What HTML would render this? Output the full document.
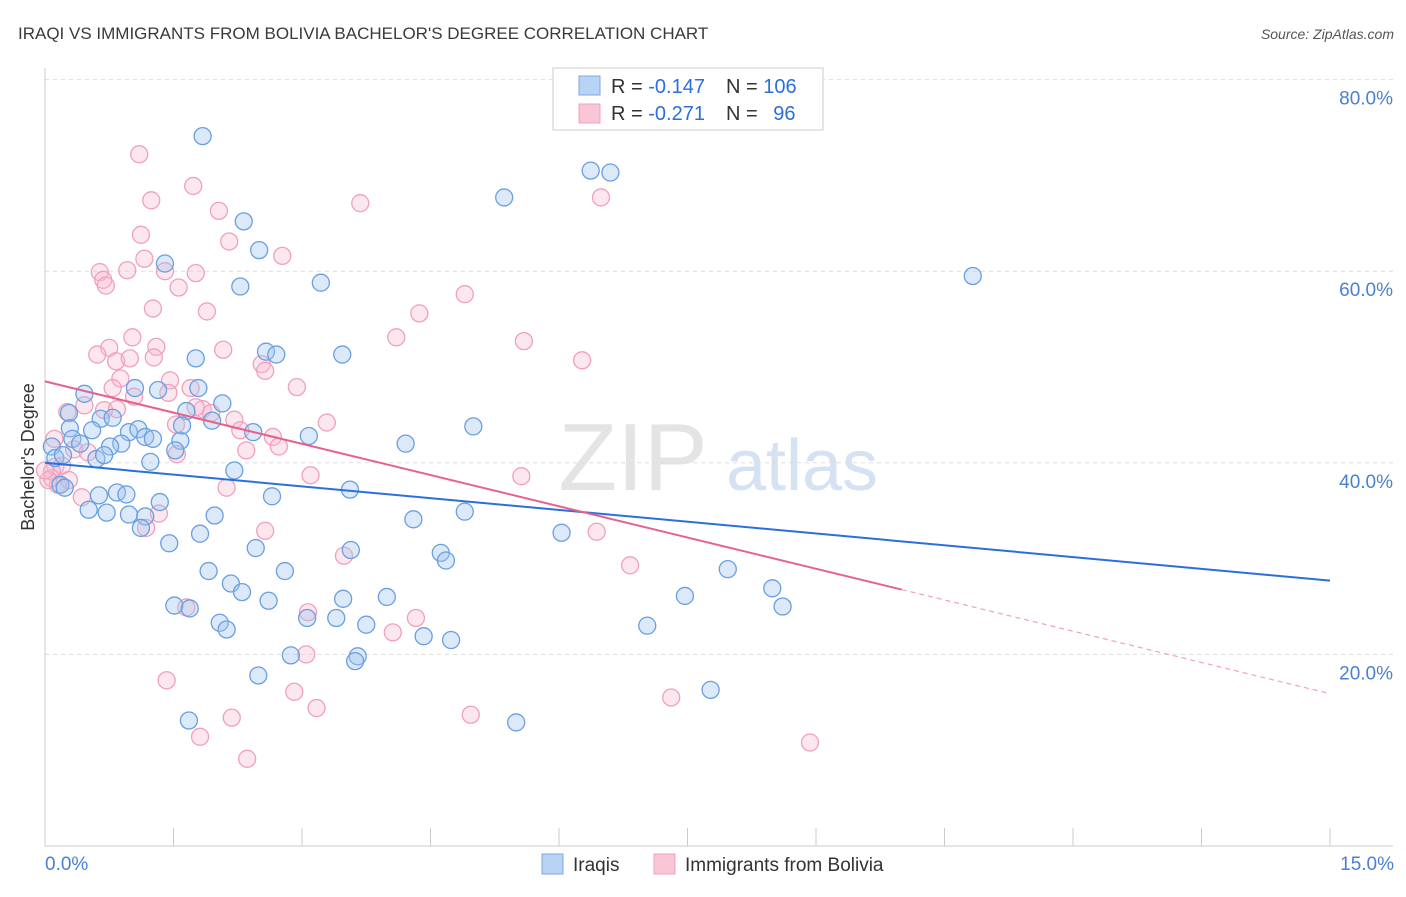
<!DOCTYPE html>
<html><head><meta charset="utf-8"><style>
body{margin:0;background:#fff;font-family:"Liberation Sans",sans-serif;}
svg text{font-family:"Liberation Sans",sans-serif;}
</style></head><body>
<svg id="chart" width="1406" height="892" viewBox="0 0 1406 892">
<text x="18" y="39" font-size="17" fill="#3a3a3a">IRAQI VS IMMIGRANTS FROM BOLIVIA BACHELOR'S DEGREE CORRELATION CHART</text>
<text x="1394" y="39" font-size="14" fill="#555" font-style="italic" text-anchor="end">Source: ZipAtlas.com</text>
<g>
<text x="633" y="490" font-size="96" fill="#e4e4e4" font-family="Liberation Serif" text-anchor="middle">ZIP</text>
<text x="802" y="490" font-size="72" fill="#d4e2f2" text-anchor="middle">atlas</text>
</g>
<g id="grid"></g>
<g id="axes"></g>
<g id="points"></g>
<g id="lines"></g>
<text transform="translate(34,457) rotate(-90)" font-size="18" fill="#333" text-anchor="middle">Bachelor's Degree</text>
<g>
<rect x="553" y="68" width="270" height="62" fill="#fff" stroke="#ccc"/>
<rect x="579" y="76" width="21" height="19" fill="#b8d3f4" stroke="#7aa8e6"/>
<rect x="579" y="104" width="21" height="19" fill="#f8c6d6" stroke="#f0a0bc"/>
<text x="611" y="93" font-size="20" fill="#333">R = <tspan fill="#2a6fdb">-0.147</tspan></text>
<text x="726" y="93" font-size="20" fill="#333">N = <tspan fill="#2a6fdb">106</tspan></text>
<text x="611" y="120" font-size="20" fill="#333">R = <tspan fill="#2a6fdb">-0.271</tspan></text>
<text x="726" y="120" font-size="20" fill="#333">N = <tspan fill="#2a6fdb" dx="10">96</tspan></text>
</g>
<g>
<rect x="542" y="854" width="21" height="20" fill="#b8d3f4" stroke="#7aa8e6"/>
<text x="573" y="871" font-size="19" fill="#333">Iraqis</text>
<rect x="654" y="854" width="21" height="20" fill="#f8c6d6" stroke="#f0a0bc"/>
<text x="685" y="871" font-size="19" fill="#333">Immigrants from Bolivia</text>
</g>
</svg>
<script>
const blueX=[1.84,6.37,6.60,5.36,2.32,2.50,10.83,3.22,2.28,1.40,1.76,2.58,2.70,3.47,0.46,1.32,1.05,1.79,1.65,1.95,2.07,0.28,0.65,0.79,0.29,0.32,0.41,0.55,0.98,1.09,1.17,1.26,0.89,0.76,1.58,1.60,2.43,3.08,4.21,5.00,0.08,0.12,0.21,0.60,0.69,1.23,1.52,2.21,0.18,0.23,0.63,0.84,0.95,1.34,2.65,3.56,0.51,0.72,0.98,1.17,1.98,4.30,4.90,1.12,1.81,6.03,1.45,2.46,3.57,4.62,4.68,1.91,2.80,2.17,2.30,2.61,1.51,1.69,3.48,3.99,7.47,7.97,8.49,8.61,3.06,3.40,3.75,2.04,2.12,4.42,4.74,7.03,2.87,3.65,3.62,2.49,7.77,1.68,5.50];
const blueY=[74.1,70.5,70.3,67.7,65.2,62.2,59.5,58.8,58.4,60.8,50.9,51.6,51.3,51.3,47.2,47.6,47.8,47.8,45.4,44.4,46.2,45.2,44.6,44.7,43.6,42.5,42.0,43.4,43.2,43.5,42.7,42.5,42.0,41.7,42.3,43.9,43.2,42.8,42.0,43.8,41.7,40.5,40.8,40.4,40.8,40.1,41.3,39.2,37.7,37.4,36.6,36.9,36.7,35.9,36.5,37.2,35.1,34.8,34.6,34.4,34.5,34.1,34.9,33.2,32.6,32.7,31.6,31.1,30.9,30.6,29.8,28.7,28.7,27.4,26.5,25.6,25.1,24.8,25.8,26.0,26.1,28.9,26.9,25.0,23.8,23.8,23.1,23.3,22.6,21.9,21.5,23.0,19.9,19.8,19.3,17.8,16.3,13.1,12.9];
const pinkX=[1.10,1.24,1.73,2.03,2.15,2.77,1.12,1.16,3.68,6.49,0.64,0.68,0.96,0.71,1.40,1.56,1.76,1.26,1.89,4.90,4.37,1.02,0.75,0.61,0.83,0.99,1.30,1.27,2.08,4.10,5.59,6.27,2.53,2.57,0.88,0.79,1.04,1.46,1.44,1.70,2.94,0.26,0.46,0.69,0.84,1.84,1.76,1.53,1.94,2.21,2.28,2.66,3.29,0.11,0.12,0.20,0.34,0.50,1.54,2.35,2.73,0.08,0.15,0.28,0.43,1.18,1.33,2.12,3.10,5.56,6.44,2.57,3.49,6.83,1.65,3.07,4.33,4.06,3.05,1.42,2.91,3.17,4.97,7.31,2.18,1.81,2.36,8.93,0.08,0.04,0.00];
const pinkY=[72.2,67.4,68.9,66.3,63.1,61.6,63.8,61.3,67.1,67.7,59.9,59.1,60.1,58.5,60.0,58.3,59.8,56.1,55.8,57.6,55.6,53.1,52.0,51.3,50.6,50.9,52.1,51.0,51.8,53.1,52.7,50.7,50.3,49.6,48.8,47.8,46.9,48.6,47.3,47.8,47.9,45.3,46.0,45.5,45.6,45.6,45.8,44.0,45.2,44.5,43.4,42.7,44.2,42.5,39.6,39.7,41.4,41.1,40.9,41.3,41.7,38.4,37.7,38.2,36.4,33.2,34.7,37.4,38.7,38.6,32.8,32.9,30.3,29.3,24.9,24.4,23.8,22.3,20.0,17.3,16.1,14.4,13.7,15.5,13.4,11.4,9.1,10.8,39.1,38.2,39.2];
const blueLine=[40.0,27.7];
const pinkLine=[48.5,15.9];
const pinkSolidEnd=10;
const yTicks=[20,40,60,80];
const xTicks=[0,1.5,3,4.5,6,7.5,9,10.5,12,13.5,15];
const xEndLabels=["0.0%","15.0%"];

const NS="http://www.w3.org/2000/svg";
const X0=45,X1=1330,Y0=846;
const sx=v=>X0+v/15*(X1-X0);
const sy=v=>Y0-v*9.58;
function mk(tag,attrs,parent){const e=document.createElementNS(NS,tag);for(const k in attrs)e.setAttribute(k,attrs[k]);parent.appendChild(e);return e;}
const grid=document.getElementById('grid'),axes=document.getElementById('axes'),pts=document.getElementById('points'),lines=document.getElementById('lines');
yTicks.forEach(t=>{
  const l=mk('line',{x1:X0,x2:1393,y1:sy(t),y2:sy(t),stroke:'#ddd','stroke-dasharray':'4,4'},grid);
  
  
  const tx=mk('text',{x:1393,y:sy(t)+25,'font-size':19,fill:'#4a80d4','text-anchor':'end'},axes);
  tx.textContent=t.toFixed(1)+'%';
  
  
});
const ax=mk('line',{x1:X0,x2:X0,y1:68,y2:Y0,stroke:'#ccc'},axes);


const bx=mk('line',{x1:X0,x2:1393,y1:Y0,y2:Y0,stroke:'#ccc'},axes);


xTicks.forEach(t=>{
  const l=mk('line',{x1:sx(t),x2:sx(t),y1:828,y2:Y0,stroke:'#ccc'},axes);
  
  
});
const xl0=mk('text',{x:45,y:870,'font-size':19,fill:'#4a80d4'},axes);
xl0.textContent=xEndLabels[0];


const xl1=mk('text',{x:1394,y:870,'font-size':19,fill:'#4a80d4','text-anchor':'end'},axes);
xl1.textContent=xEndLabels[1];



pinkX.forEach((v,i)=>{
  const c=mk('circle',{cx:sx(v),cy:sy(pinkY[i]),r:8.5,fill:'rgba(248,185,208,0.35)',stroke:'#f0a0bc','stroke-width':1.3},pts);
  
  
});
blueX.forEach((v,i)=>{
  const c=mk('circle',{cx:sx(v),cy:sy(blueY[i]),r:8.5,fill:'rgba(160,196,240,0.38)',stroke:'#6a9fe0','stroke-width':1.3},pts);
  
  
});
const bl=mk('line',{x1:sx(0),y1:sy(blueLine[0]),x2:sx(15),y2:sy(blueLine[1]),stroke:'#2a6fdb','stroke-width':2},lines);


const pAt=x=>pinkLine[0]+(pinkLine[1]-pinkLine[0])*x/15;
const pl=mk('line',{x1:sx(0),y1:sy(pinkLine[0]),x2:sx(pinkSolidEnd),y2:sy(pAt(pinkSolidEnd)),stroke:'#e8608e','stroke-width':2},lines);


const pd=mk('line',{x1:sx(pinkSolidEnd),y1:sy(pAt(pinkSolidEnd)),x2:sx(15),y2:sy(pinkLine[1]),stroke:'#f0a0bc','stroke-width':1.2,'stroke-dasharray':'5,4'},lines);


</script>
</body></html>
